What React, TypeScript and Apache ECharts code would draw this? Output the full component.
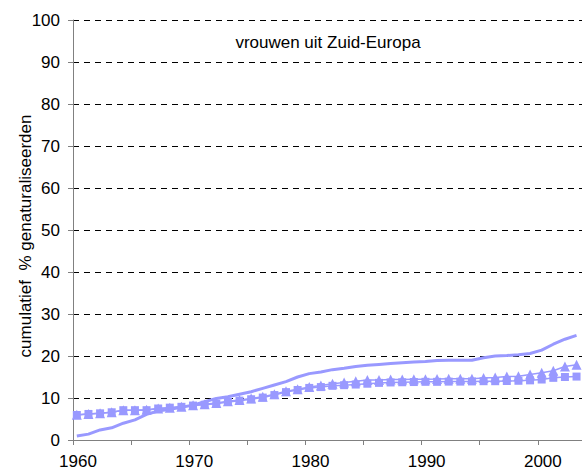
import React, { useEffect, useRef } from "react";
import * as echarts from "echarts";

const years = [
  1960, 1961, 1962, 1963, 1964, 1965, 1966, 1967, 1968, 1969,
  1970, 1971, 1972, 1973, 1974, 1975, 1976, 1977, 1978, 1979,
  1980, 1981, 1982, 1983, 1984, 1985, 1986, 1987, 1988, 1989,
  1990, 1991, 1992, 1993, 1994, 1995, 1996, 1997, 1998, 1999,
  2000, 2001, 2002, 2003,
];

// solid line
const seriesLine = [
  0.95, 1.4, 2.4, 2.9, 4.0, 4.8, 6.1, 6.9, 7.3, 7.8,
  8.3, 9.1, 9.9, 10.3, 10.9, 11.5, 12.3, 13.1, 13.9, 15.0,
  15.8, 16.2, 16.75, 17.1, 17.5, 17.8, 18.0, 18.2, 18.4, 18.6,
  18.7, 18.9, 19.0, 19.0, 19.0, 19.6, 20.0, 20.1, 20.3, 20.6,
  21.4, 22.8, 24.0, 24.9,
];

// triangle markers
const seriesTriangle = [
  6.0, 6.2, 6.35, 6.6, 7.1, 7.1, 7.2, 7.5, 7.7, 7.9,
  8.3, 8.5, 8.8, 9.2, 9.5, 9.9, 10.3, 10.9, 11.6, 12.1,
  12.6, 13.0, 13.4, 13.7, 13.97, 14.3, 14.3, 14.4, 14.4, 14.45,
  14.45, 14.5, 14.6, 14.6, 14.6, 14.75, 14.9, 15.1, 15.2, 15.6,
  16.0, 16.5, 17.5, 17.9,
];

// square markers
const seriesSquare = [
  5.95, 6.2, 6.35, 6.6, 7.1, 7.1, 7.1, 7.5, 7.7, 7.9,
  8.2, 8.4, 8.65, 9.05, 9.37, 9.7, 10.1, 10.7, 11.4, 11.9,
  12.4, 12.6, 12.9, 13.05, 13.2, 13.4, 13.6, 13.7, 13.75, 13.8,
  13.85, 13.85, 13.9, 13.9, 13.95, 14.0, 14.0, 14.05, 14.1, 14.2,
  14.4, 14.8, 15.0, 15.1,
];

const chartTitle = "vrouwen uit Zuid-Europa";
const yAxisTitle = "cumulatief  % genaturaliseerden";
const pointOffset = 0.33; // points sit a third of a year after the tick

const COLOR = "#9999FF";
const FONT = "'Liberation Sans', Arial, sans-serif";

export default function App() {
  const ref = useRef<HTMLDivElement>(null);

  useEffect(() => {
    if (!ref.current) return;
    const chart = echarts.init(ref.current, null, { renderer: "svg" });
    const pts = (vals: number[]) => years.map((y, i) => [y + pointOffset, vals[i]]);

    chart.setOption({
      animation: false,
      backgroundColor: "#ffffff",
      grid: { left: 73, right: 0, top: 20, bottom: 35, containLabel: false },
      xAxis: {
        type: "value",
        min: 1960,
        max: 2003.8,
        interval: 5,
        axisLine: { show: true, onZero: false, lineStyle: { color: "#808080", width: 1 } },
        axisTick: { show: true, length: 5, lineStyle: { color: "#808080" } },
        axisLabel: {
          show: true,
          fontSize: 17,
          fontFamily: FONT,
          color: "#000",
          margin: 13,
          padding: [0, 0, 0, 10],
          showMaxLabel: false,
          formatter: (v: number) => (v % 10 === 0 ? String(v) : ""),
        },
        splitLine: { show: false },
      },
      yAxis: {
        type: "value",
        min: 0,
        max: 100,
        interval: 10,
        axisLine: { show: true, lineStyle: { color: "#808080", width: 1 } },
        axisTick: { show: true, length: 5, lineStyle: { color: "#808080" } },
        axisLabel: { fontSize: 17, fontFamily: FONT, color: "#000", margin: 13 },
        splitLine: {
          show: true,
          lineStyle: { color: "#000", width: 1, type: [6, 5] },
        },
      },
      graphic: [
        {
          type: "text",
          x: 328,
          y: 42,
          style: {
            text: chartTitle,
            font: `17px ${FONT}`,
            fill: "#000",
            textAlign: "center",
            textVerticalAlign: "middle",
          },
        },
        {
          type: "text",
          x: 25,
          y: 236,
          rotation: Math.PI / 2,
          style: {
            text: yAxisTitle,
            font: `17px ${FONT}`,
            fill: "#000",
            textAlign: "center",
            textVerticalAlign: "middle",
          },
        },
      ],
      series: [
        {
          type: "line",
          data: pts(seriesLine),
          symbol: "none",
          lineStyle: { color: COLOR, width: 3 },
          itemStyle: { color: COLOR },
        },
        {
          type: "line",
          data: pts(seriesTriangle),
          symbol: "triangle",
          symbolSize: 10,
          lineStyle: { color: COLOR, width: 1.5 },
          itemStyle: { color: COLOR },
        },
        {
          type: "line",
          data: pts(seriesSquare),
          symbol: "rect",
          symbolSize: 8,
          lineStyle: { color: COLOR, width: 1.5 },
          itemStyle: { color: COLOR },
        },
      ],
    });

    return () => chart.dispose();
  }, []);

  return (
    <div
      ref={ref}
      style={{ position: "fixed", left: 0, top: 0, width: 582, height: 475 }}
    />
  );
}
